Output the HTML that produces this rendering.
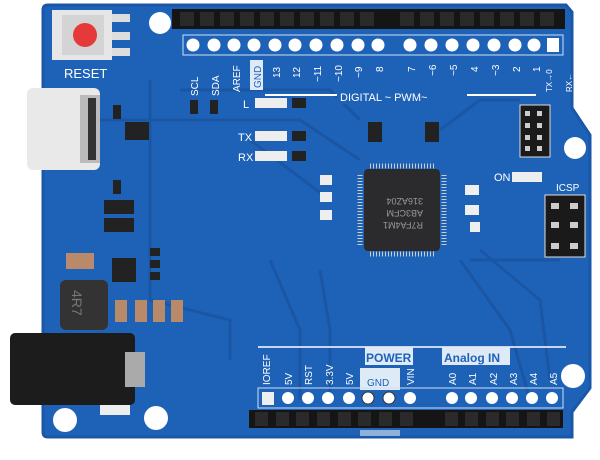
<!DOCTYPE html><html><head><style>body{margin:0;background:#fff}svg{display:block}text{font-family:"Liberation Sans",sans-serif;fill:#fff}</style></head><body>
<svg width="600" height="460" viewBox="0 0 600 460" xmlns="http://www.w3.org/2000/svg">
<rect width="600" height="460" fill="#fff"/>
<path d="M48,5 L566,5 L572,12 L572,108 L590,135 L590,388 L572,412 L572,437 L48,437 Q43,437 43,432 L43,10 Q43,5 48,5Z" fill="#1e62b8"/>
<path d="M48,5 L566,5 L572,12 L572,108 L590,135 L590,388 L572,412 L572,437 L48,437 Q43,437 43,432 L43,10 Q43,5 48,5Z" fill="none" stroke="#1a57a8" stroke-width="3"/>
<g stroke="#1a55a2" stroke-width="3" fill="none" opacity="0.9">
<path d="M150,80 L150,300 L230,320 L230,360"/><path d="M250,140 L330,200"/><path d="M180,90 L330,90 L360,120"/><path d="M270,260 L300,330 L300,400"/><path d="M320,270 L330,330 L330,400"/><path d="M460,260 L510,330 L530,400"/><path d="M480,250 L540,300 L550,380"/><path d="M100,120 L300,120 L360,160"/><path d="M440,130 L480,100 L520,100"/><path d="M470,260 L560,260"/>
</g>
<rect x="172" y="9" width="393" height="20" fill="#151515"/>
<g fill="#2a2a2a"><rect x="180" y="12" width="14" height="14"/><rect x="200" y="12" width="14" height="14"/><rect x="220" y="12" width="14" height="14"/><rect x="240" y="12" width="14" height="14"/><rect x="260" y="12" width="14" height="14"/><rect x="280" y="12" width="14" height="14"/><rect x="300" y="12" width="14" height="14"/><rect x="320" y="12" width="14" height="14"/><rect x="340" y="12" width="14" height="14"/><rect x="360" y="12" width="14" height="14"/><rect x="400" y="12" width="14" height="14"/><rect x="420" y="12" width="14" height="14"/><rect x="440" y="12" width="14" height="14"/><rect x="460" y="12" width="14" height="14"/><rect x="480" y="12" width="14" height="14"/><rect x="500" y="12" width="14" height="14"/><rect x="520" y="12" width="14" height="14"/><rect x="540" y="12" width="14" height="14"/></g>
<g fill="#fff"><circle cx="193" cy="45" r="6.5"/><circle cx="214" cy="45" r="6.5"/><circle cx="234" cy="45" r="6.5"/><circle cx="254" cy="45" r="6.5"/><circle cx="275" cy="45" r="6.5"/><circle cx="295" cy="45" r="6.5"/><circle cx="316" cy="45" r="6.5"/><circle cx="337" cy="45" r="6.5"/><circle cx="358" cy="45" r="6.5"/><circle cx="378" cy="45" r="6.5"/><circle cx="410" cy="45" r="6.5"/><circle cx="431" cy="45" r="6.5"/><circle cx="452" cy="45" r="6.5"/><circle cx="473" cy="45" r="6.5"/><circle cx="494" cy="45" r="6.5"/><circle cx="515" cy="45" r="6.5"/><circle cx="534" cy="45" r="6.5"/><rect x="547" y="38" width="12" height="14"/></g>
<rect x="183" y="35" width="380" height="20" fill="none" stroke="#cfe0f5" stroke-width="1"/>
<g font-size="10">
<text transform="translate(198,96) rotate(-90)">SCL</text><text transform="translate(219,96) rotate(-90)">SDA</text><text transform="translate(240,92) rotate(-90)">AREF</text>
<rect x="250" y="60" width="13" height="30" fill="#dfeaf7"/><text transform="translate(261,88) rotate(-90)" style="fill:#1e62b8">GND</text>
<text transform="translate(280,78) rotate(-90)">13</text><text transform="translate(300,78) rotate(-90)">12</text><text transform="translate(321,82) rotate(-90)">~11</text><text transform="translate(342,82) rotate(-90)">~10</text><text transform="translate(362,78) rotate(-90)">~9</text><text transform="translate(383,72) rotate(-90)">8</text>
<text transform="translate(415,72) rotate(-90)">7</text><text transform="translate(436,76) rotate(-90)">~6</text><text transform="translate(457,76) rotate(-90)">~5</text><text transform="translate(478,72) rotate(-90)">4</text><text transform="translate(499,76) rotate(-90)">~3</text><text transform="translate(520,72) rotate(-90)">2</text><text transform="translate(540,72) rotate(-90)">1</text><text transform="translate(552,92) rotate(-90)" font-size="8">TX→0</text><text transform="translate(572,92) rotate(-90)" font-size="8">RX←</text>
</g>
<line x1="265" y1="95" x2="536" y2="95" stroke="#fff" stroke-width="2"/>
<rect x="337" y="90" width="130" height="14" fill="#1e62b8"/>
<text x="340" y="101" font-size="11">DIGITAL  ~  PWM~</text>
<rect x="52" y="10" width="60" height="50" fill="#e6e6e6"/><rect x="62" y="15" width="42" height="40" fill="#d4d4d4"/><circle cx="85" cy="35" r="12" fill="#e43a3a"/>
<g fill="#ddd"><rect x="112" y="14" width="18" height="8"/><rect x="112" y="32" width="18" height="8"/><rect x="112" y="48" width="18" height="8"/></g>
<text x="64" y="78" font-size="13">RESET</text>
<rect x="27" y="88" width="73" height="82" rx="6" fill="#e9e9e9"/><rect x="80" y="95" width="20" height="68" fill="#bbb"/><rect x="88" y="98" width="8" height="62" fill="#333"/>
<rect x="125" y="122" width="24" height="18" fill="#222"/>
<g fill="#eee"><rect x="255" y="98" width="32" height="10"/><rect x="255" y="131" width="32" height="10"/><rect x="255" y="151" width="32" height="10"/></g>
<g fill="#222"><rect x="292" y="98" width="14" height="10"/><rect x="292" y="131" width="14" height="10"/><rect x="292" y="151" width="14" height="10"/><rect x="368" y="122" width="14" height="20"/><rect x="425" y="122" width="14" height="20"/><rect x="190" y="100" width="8" height="14"/><rect x="210" y="100" width="8" height="14"/><rect x="113" y="105" width="8" height="14"/><rect x="113" y="180" width="8" height="14"/></g>
<text x="243" y="108" font-size="11">L</text><text x="238" y="141" font-size="11">TX</text><text x="238" y="161" font-size="11">RX</text><text x="494" y="181" font-size="11">ON</text>
<rect x="512" y="172" width="30" height="10" fill="#eee"/>
<rect x="355" y="160" width="92" height="98" fill="#1e62b8"/>
<rect x="364" y="169" width="76" height="82" rx="4" fill="#2b2b2e"/>
<g stroke="#ccc"><path d="M370,166 h64 M370,254 h64" stroke-dasharray="1 2" stroke-width="5"/><path d="M360,175 v70 M444,175 v70" stroke-dasharray="1 2" stroke-width="5"/></g>
<g font-size="9" transform="translate(403,210) rotate(180)"><text x="-20" y="-12" style="fill:#999">R7FA4M1</text><text x="-20" y="0" style="fill:#999">AB3CFM</text><text x="-20" y="12" style="fill:#999">316AZ04</text></g>
<g fill="#eee"><rect x="320" y="175" width="12" height="10"/><rect x="320" y="192" width="12" height="10"/><rect x="320" y="210" width="12" height="10"/><rect x="465" y="185" width="14" height="10"/><rect x="465" y="205" width="14" height="10"/><rect x="470" y="222" width="10" height="10"/></g>
<rect x="520" y="105" width="30" height="52" fill="#1a1a1a" stroke="#ddd"/>
<g fill="#ccc"><rect x="525" y="111" width="5" height="5"/><rect x="537" y="111" width="5" height="5"/><rect x="525" y="123" width="5" height="5"/><rect x="537" y="123" width="5" height="5"/><rect x="525" y="135" width="5" height="5"/><rect x="537" y="135" width="5" height="5"/><rect x="525" y="146" width="5" height="5"/><rect x="537" y="146" width="5" height="5"/></g>
<text x="556" y="191" font-size="10">ICSP</text>
<rect x="545" y="195" width="40" height="62" fill="#1a1a1a" stroke="#ddd"/>
<g fill="#ccc"><rect x="551" y="203" width="8" height="6"/><rect x="570" y="203" width="8" height="6"/><rect x="551" y="222" width="8" height="6"/><rect x="570" y="222" width="8" height="6"/><rect x="551" y="243" width="8" height="6"/><rect x="570" y="243" width="8" height="6"/></g>
<rect x="104" y="200" width="30" height="14" fill="#222"/><rect x="104" y="218" width="30" height="14" fill="#222"/>
<rect x="66" y="253" width="28" height="16" fill="#b98a6a"/><rect x="112" y="258" width="24" height="24" fill="#222"/>
<g fill="#222"><rect x="150" y="248" width="10" height="8"/><rect x="150" y="260" width="10" height="8"/><rect x="150" y="272" width="10" height="8"/></g>
<rect x="60" y="280" width="48" height="50" rx="6" fill="#333"/><text transform="translate(72,290) rotate(90)" font-size="14" style="fill:#777">4R7</text>
<g fill="#b98a6a"><rect x="115" y="300" width="12" height="22"/><rect x="135" y="300" width="12" height="22"/><rect x="153" y="300" width="12" height="22"/><rect x="171" y="300" width="12" height="22"/></g>
<rect x="10" y="333" width="125" height="72" rx="5" fill="#1c1c1c"/><rect x="125" y="352" width="20" height="35" fill="#aaa"/>
<rect x="100" y="405" width="30" height="10" fill="#eee"/>
<g fill="#fff"><circle cx="160" cy="23" r="11"/><circle cx="65" cy="420" r="12"/><circle cx="156" cy="418" r="12"/><circle cx="575" cy="148" r="11"/><circle cx="573" cy="376" r="12"/></g>
<line x1="258" y1="347" x2="566" y2="347" stroke="#fff" stroke-width="1.5"/>
<rect x="365" y="347" width="48" height="18" fill="#dfeaf7"/><text x="366" y="362" font-size="12" style="fill:#1e62b8;font-weight:bold">POWER</text>
<rect x="442" y="347" width="68" height="18" fill="#dfeaf7"/><text x="444" y="362" font-size="12" style="fill:#1e62b8;font-weight:bold">Analog IN</text>
<rect x="360" y="368" width="40" height="22" fill="#dfeaf7"/><text x="367" y="386" font-size="10" style="fill:#1e62b8">GND</text>
<g font-size="10"><text transform="translate(270,385) rotate(-90)">IOREF</text><text transform="translate(292,385) rotate(-90)">5V</text><text transform="translate(312,385) rotate(-90)">RST</text><text transform="translate(333,385) rotate(-90)">3.3V</text><text transform="translate(353,385) rotate(-90)">5V</text><text transform="translate(414,385) rotate(-90)">VIN</text><text transform="translate(456,385) rotate(-90)">A0</text><text transform="translate(476,385) rotate(-90)">A1</text><text transform="translate(497,385) rotate(-90)">A2</text><text transform="translate(517,385) rotate(-90)">A3</text><text transform="translate(537,385) rotate(-90)">A4</text><text transform="translate(557,385) rotate(-90)">A5</text></g>
<rect x="258" y="388" width="305" height="20" fill="none" stroke="#cfe0f5"/>
<rect x="262" y="392" width="12" height="13" fill="#eee"/>
<g fill="#fff"><circle cx="288" cy="398" r="6"/><circle cx="308" cy="398" r="6"/><circle cx="328" cy="398" r="6"/><circle cx="349" cy="398" r="6"/><circle cx="368" cy="398" r="6" stroke="#333"/><circle cx="389" cy="398" r="6" stroke="#333"/><circle cx="410" cy="398" r="6"/><circle cx="452" cy="398" r="6"/><circle cx="471" cy="398" r="6"/><circle cx="492" cy="398" r="6"/><circle cx="512" cy="398" r="6"/><circle cx="532" cy="398" r="6"/><circle cx="552" cy="398" r="6"/></g>
<rect x="249" y="410" width="314" height="18" fill="#151515"/>
<g fill="#2a2a2a"><rect x="255" y="412" width="13" height="14"/><rect x="276" y="412" width="13" height="14"/><rect x="296" y="412" width="13" height="14"/><rect x="317" y="412" width="13" height="14"/><rect x="338" y="412" width="13" height="14"/><rect x="358" y="412" width="13" height="14"/><rect x="379" y="412" width="13" height="14"/><rect x="400" y="412" width="13" height="14"/><rect x="445" y="412" width="13" height="14"/><rect x="465" y="412" width="13" height="14"/><rect x="486" y="412" width="13" height="14"/><rect x="506" y="412" width="13" height="14"/><rect x="527" y="412" width="13" height="14"/><rect x="547" y="412" width="13" height="14"/></g>
<rect x="360" y="430" width="40" height="6" fill="#8fb0d8"/>
</svg></body></html>
